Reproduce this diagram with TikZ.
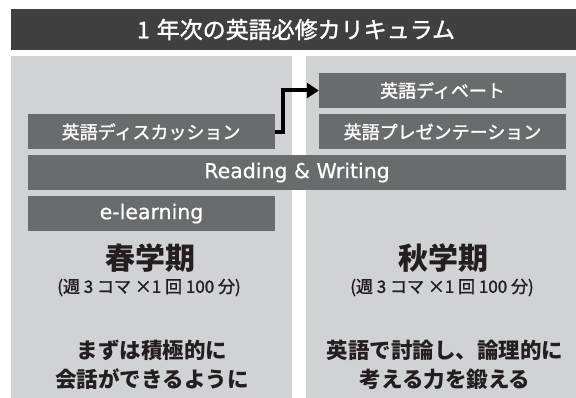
\documentclass[tikz,border=0pt]{standalone}
\usepackage{fontspec}
\setmainfont{Noto Sans CJK JP}
\newfontfamily\latinfont[FakeBold=0.6]{DejaVu Sans}
\newfontfamily\midfont[FakeBold=1.5]{Noto Sans CJK JP}
\usepackage{xcolor}
\usetikzlibrary{arrows.meta, positioning}
\definecolor{titlebg}{RGB}{64,64,64}
\definecolor{termbg}{RGB}{209,210,212}
\definecolor{coursebg}{RGB}{106,107,111}
\definecolor{ink}{RGB}{35,31,32}

\begin{document}
\begin{tikzpicture}[
  x=1pt, y=-1pt,
  node distance=6pt,
  course/.style={rectangle, fill=coursebg, text=white, inner sep=0pt, minimum width=247pt, minimum height=35pt, font=\midfont\fontsize{18}{20}\selectfont},
  latin/.style={font=\latinfont\fontsize{20.5}{22}\selectfont},
  term/.style={text=ink, inner sep=0pt, font=\bfseries\fontsize{30}{32}\selectfont},
  load/.style={text=ink, inner sep=0pt, font=\midfont\fontsize{17}{19}\selectfont},
  goal/.style={text=ink, inner sep=0pt, align=center, font=\bfseries\fontsize{21.5}{29}\selectfont},
  link/.style={draw=black, line width=4pt, -{Triangle[length=12pt, width=15pt]}}
]
  \useasboundingbox (0,0) rectangle (576,398);

  % title bar and the two terms
  \fill[titlebg] (11,9) rectangle (576,50);
  \node[text=white, font=\midfont\fontsize{23}{25}\selectfont] (title) at (296,29.5) {1\hspace{0.3em}年次の英語必修カリキュラム};
  \fill[termbg] (11,56) rectangle (292,398);
  \fill[termbg] (306,56) rectangle (576,398);

  % courses
  \node[course] (debate) at (442.5,90.5) {英語ディベート};
  \node[course, below=of debate] (presen) {英語プレゼンテーション};
  \node[course, left=44pt of presen] (disc) {英語ディスカッション};
  \node[course, latin, minimum width=538pt] (rw) at (297,172.5) {Reading \& Writing};
  \node[course, latin] (elearn) at (151.5,213.5) {e-learning};

  \draw[link] (disc.east) -- ++(8,0) |- (debate.west);

  % spring term
  \node[term] (spring) at (150,258.5) {春学期};
  \node[load] (springload) at (149,287.5) {(週 3 コマ ×1 回 100 分)};
  \node[goal] (springgoal) at (152,364.5) {まずは積極的に\\会話ができるように};

  % autumn term
  \node[term] (autumn) at (443,258.5) {秋学期};
  \node[load] (autumnload) at (442,287.5) {(週 3 コマ ×1 回 100 分)};
  \node[goal] (autumngoal) at (445,364.5) {英語で討論し、論理的に\\考える力を鍛える};
\end{tikzpicture}
\end{document}
